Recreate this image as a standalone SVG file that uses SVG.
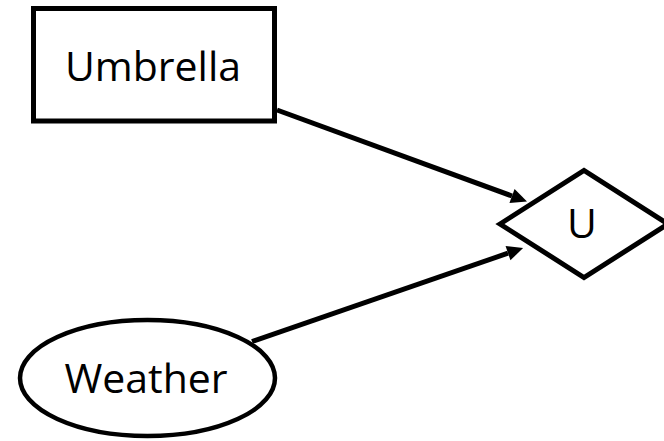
<svg xmlns="http://www.w3.org/2000/svg" width="664" height="441" viewBox="0 0 664 441">
  <style>
    .shape { fill: #ffffff; stroke: #000000; }
    .label { font-family: "Open Sans", "Noto Sans", "Liberation Sans", sans-serif; font-size: 41px; fill: #000000; text-anchor: middle; }
    .edge { stroke: #000000; stroke-width: 5; fill: none; }
  </style>
  <defs>
    <marker id="arrow" markerUnits="userSpaceOnUse" markerWidth="16" markerHeight="16" viewBox="0 -8 16 16" refX="0" refY="0" orient="auto" overflow="visible">
      <path d="M0,-7.5 L16,0 L0,7.5 z" fill="#000000"/>
    </marker>
  </defs>
  <rect width="664" height="441" fill="#ffffff"/>
  <g id="connectors">
    <line class="edge" x1="277" y1="110" x2="512" y2="196" marker-end="url(#arrow)"/>
    <line class="edge" x1="252" y1="341.5" x2="508" y2="253.2" marker-end="url(#arrow)"/>
  </g>
  <g id="umbrella">
    <rect class="shape" x="33.5" y="8.5" width="241" height="112.5" stroke-width="5"/>
    <text class="label" x="153" y="81">Umbrella</text>
  </g>
  <g id="utility">
    <polygon class="shape" points="500,224 584,170.5 668,224 584,277.5" stroke-width="5"/>
    <text class="label" x="582" y="238">U</text>
  </g>
  <g id="weather">
    <ellipse class="shape" cx="147.5" cy="378" rx="127.5" ry="58" stroke-width="4.5"/>
    <text class="label" x="146" y="393">Weather</text>
  </g>
</svg>
